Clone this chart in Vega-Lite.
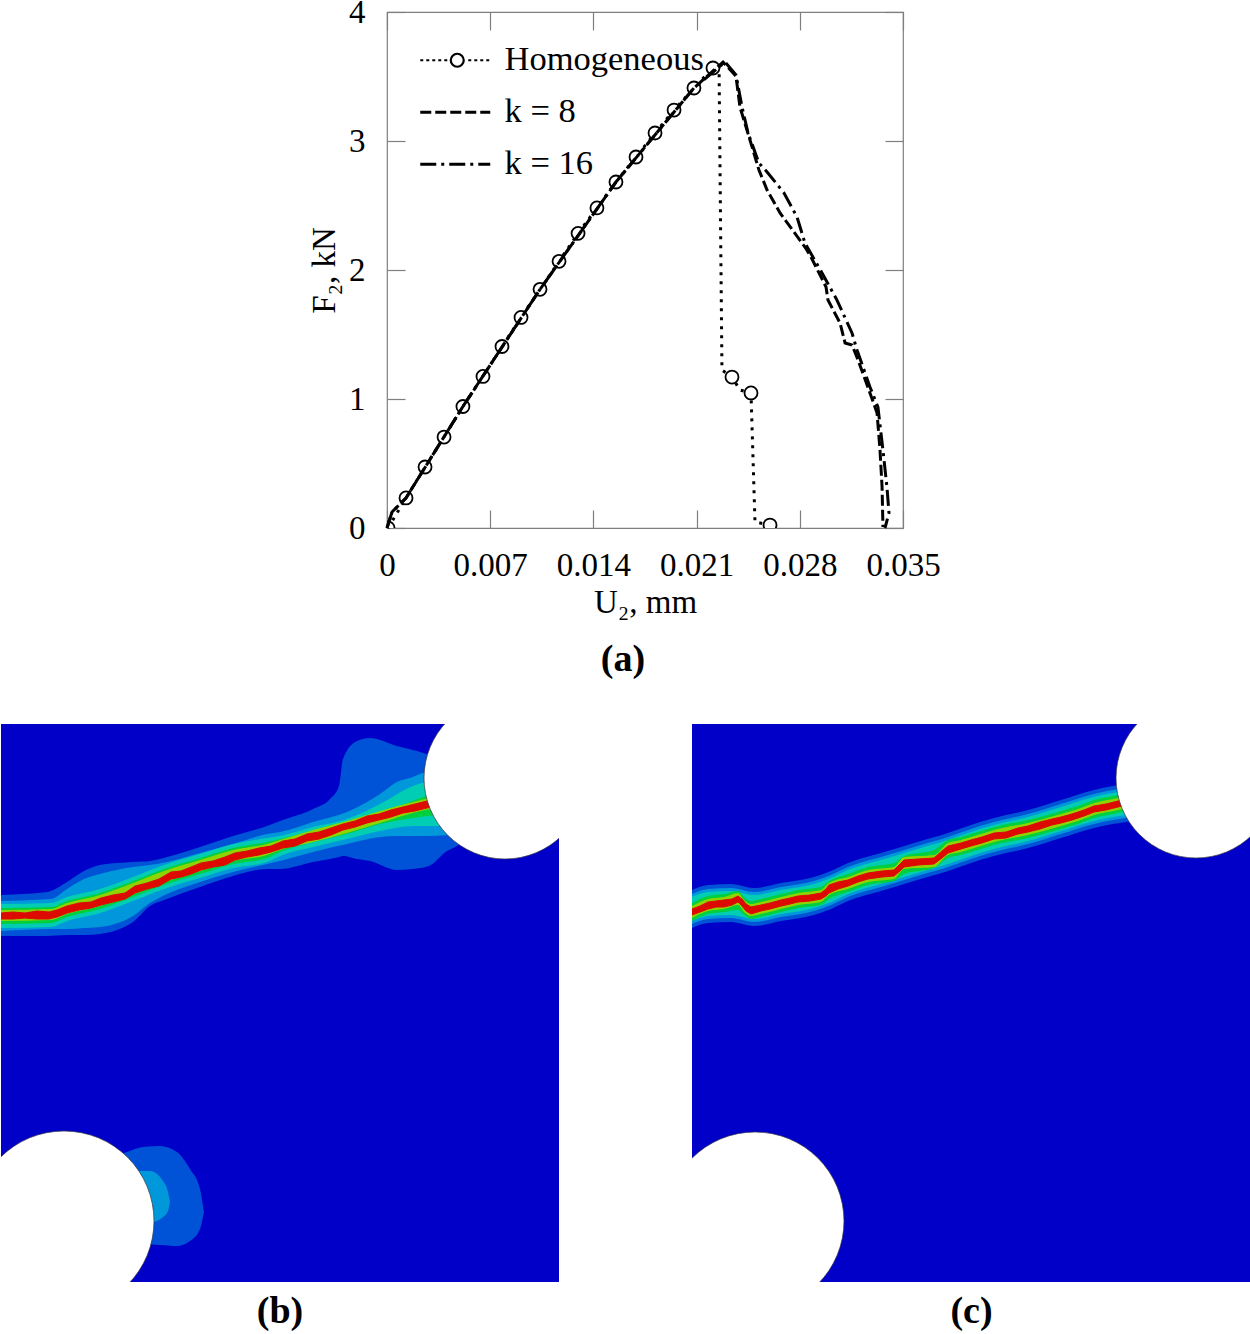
{"$schema":"https://vega.github.io/schema/vega-lite/v6.json","padding":{"left":0,"top":-5,"right":0,"bottom":0},"background":"white","config":{"view":{"stroke":null},"font":"Liberation Serif"},"bounds":"flush","spacing":712,"datasets":{"curve":[
{"series":"Homogeneous","i":0,"u":0.00007,"f":0,"m":1},{"series":"Homogeneous","i":1,"u":0.00129,"f":0.233,"m":1},{"series":"Homogeneous","i":2,"u":0.00258,"f":0.473,"m":1},{"series":"Homogeneous","i":3,"u":0.00387,"f":0.705,"m":1},{"series":"Homogeneous","i":4,"u":0.00515,"f":0.942,"m":1},{"series":"Homogeneous","i":5,"u":0.00651,"f":1.175,"m":1},{"series":"Homogeneous","i":6,"u":0.0078,"f":1.407,"m":1},{"series":"Homogeneous","i":7,"u":0.00909,"f":1.632,"m":1},{"series":"Homogeneous","i":8,"u":0.01038,"f":1.85,"m":1},{"series":"Homogeneous","i":9,"u":0.01167,"f":2.067,"m":1},{"series":"Homogeneous","i":10,"u":0.01296,"f":2.284,"m":1},{"series":"Homogeneous","i":11,"u":0.01424,"f":2.481,"m":1},{"series":"Homogeneous","i":12,"u":0.01553,"f":2.682,"m":1},{"series":"Homogeneous","i":13,"u":0.01689,"f":2.876,"m":1},{"series":"Homogeneous","i":14,"u":0.01818,"f":3.062,"m":1},{"series":"Homogeneous","i":15,"u":0.01947,"f":3.24,"m":1},{"series":"Homogeneous","i":16,"u":0.02082,"f":3.411,"m":1},{"series":"Homogeneous","i":17,"u":0.02211,"f":3.566,"m":1},{"series":"Homogeneous","i":18,"u":0.02252,"f":3.612,"m":0},{"series":"Homogeneous","i":19,"u":0.02272,"f":1.225,"m":0},{"series":"Homogeneous","i":20,"u":0.0234,"f":1.17,"m":1},{"series":"Homogeneous","i":21,"u":0.02394,"f":1.07,"m":0},{"series":"Homogeneous","i":22,"u":0.02469,"f":1.047,"m":1},{"series":"Homogeneous","i":23,"u":0.02496,"f":0.047,"m":0},{"series":"Homogeneous","i":24,"u":0.02598,"f":0.023,"m":1},
{"series":"k = 8","i":0,"u":0,"f":0},{"series":"k = 8","i":1,"u":0.00034,"f":0.124},{"series":"k = 8","i":2,"u":0.00129,"f":0.233},{"series":"k = 8","i":3,"u":0.00515,"f":0.942},{"series":"k = 8","i":4,"u":0.01038,"f":1.85},{"series":"k = 8","i":5,"u":0.01553,"f":2.682},{"series":"k = 8","i":6,"u":0.02082,"f":3.411},{"series":"k = 8","i":7,"u":0.02279,"f":3.612},{"series":"k = 8","i":8,"u":0.02367,"f":3.504},{"series":"k = 8","i":9,"u":0.02394,"f":3.264},{"series":"k = 8","i":10,"u":0.02462,"f":3.008},{"series":"k = 8","i":11,"u":0.02523,"f":2.775},{"series":"k = 8","i":12,"u":0.02578,"f":2.62},{"series":"k = 8","i":13,"u":0.02666,"f":2.442},{"series":"k = 8","i":14,"u":0.02835,"f":2.178},{"series":"k = 8","i":15,"u":0.02876,"f":2.101},{"series":"k = 8","i":16,"u":0.02978,"f":1.868},{"series":"k = 8","i":17,"u":0.02991,"f":1.767},{"series":"k = 8","i":18,"u":0.03073,"f":1.589},{"series":"k = 8","i":19,"u":0.03107,"f":1.434},{"series":"k = 8","i":20,"u":0.03154,"f":1.419},{"series":"k = 8","i":21,"u":0.03195,"f":1.302},{"series":"k = 8","i":22,"u":0.03276,"f":1.047},{"series":"k = 8","i":23,"u":0.03324,"f":0.891},{"series":"k = 8","i":24,"u":0.03344,"f":0.605},{"series":"k = 8","i":25,"u":0.03358,"f":0.318},{"series":"k = 8","i":26,"u":0.03364,"f":0.008},
{"series":"k = 16","i":0,"u":0,"f":0},{"series":"k = 16","i":1,"u":0.00034,"f":0.124},{"series":"k = 16","i":2,"u":0.00129,"f":0.233},{"series":"k = 16","i":3,"u":0.00515,"f":0.942},{"series":"k = 16","i":4,"u":0.01038,"f":1.85},{"series":"k = 16","i":5,"u":0.01553,"f":2.682},{"series":"k = 16","i":6,"u":0.02082,"f":3.411},{"series":"k = 16","i":7,"u":0.02293,"f":3.612},{"series":"k = 16","i":8,"u":0.02367,"f":3.512},{"series":"k = 16","i":9,"u":0.02408,"f":3.264},{"series":"k = 16","i":10,"u":0.02449,"f":3.062},{"series":"k = 16","i":11,"u":0.02523,"f":2.829},{"series":"k = 16","i":12,"u":0.02578,"f":2.76},{"series":"k = 16","i":13,"u":0.02693,"f":2.597},{"series":"k = 16","i":14,"u":0.02781,"f":2.411},{"series":"k = 16","i":15,"u":0.02835,"f":2.209},{"series":"k = 16","i":16,"u":0.02951,"f":1.977},{"series":"k = 16","i":17,"u":0.03052,"f":1.767},{"series":"k = 16","i":18,"u":0.03154,"f":1.512},{"series":"k = 16","i":19,"u":0.03188,"f":1.38},{"series":"k = 16","i":20,"u":0.03276,"f":1.093},{"series":"k = 16","i":21,"u":0.0333,"f":0.938},{"series":"k = 16","i":22,"u":0.03364,"f":0.605},{"series":"k = 16","i":23,"u":0.03391,"f":0.318},{"series":"k = 16","i":24,"u":0.03405,"f":0.116},{"series":"k = 16","i":25,"u":0.03378,"f":0}],
"bands_b":[
{"l":"L1","g":"crack","x":0,"y":171,"y2":212},{"l":"L1","g":"crack","x":46,"y":168,"y2":212},{"l":"L1","g":"crack","x":66,"y":158,"y2":211},{"l":"L1","g":"crack","x":83,"y":147,"y2":211},{"l":"L1","g":"crack","x":99,"y":141,"y2":210},{"l":"L1","g":"crack","x":116,"y":139,"y2":206},{"l":"L1","g":"crack","x":132,"y":138,"y2":198},{"l":"L1","g":"crack","x":149,"y":137,"y2":182},{"l":"L1","g":"crack","x":166,"y":133,"y2":175},{"l":"L1","g":"crack","x":199,"y":123,"y2":163},{"l":"L1","g":"crack","x":232,"y":112,"y2":152},{"l":"L1","g":"crack","x":266,"y":102,"y2":145},{"l":"L1","g":"crack","x":279,"y":97,"y2":145},{"l":"L1","g":"crack","x":312,"y":85,"y2":138},{"l":"L1","g":"crack","x":329,"y":75,"y2":135},{"l":"L1","g":"crack","x":338,"y":62,"y2":133},{"l":"L1","g":"crack","x":342,"y":35,"y2":132},{"l":"L1","g":"crack","x":356,"y":17,"y2":135},{"l":"L1","g":"crack","x":369,"y":14,"y2":137},{"l":"L1","g":"crack","x":396,"y":22,"y2":146},{"l":"L1","g":"crack","x":412,"y":26,"y2":145},{"l":"L1","g":"crack","x":428,"y":31,"y2":142},{"l":"L1","g":"crack","x":446,"y":40,"y2":127},{"l":"L1","g":"crack","x":456,"y":45,"y2":122},{"l":"L1","g":"crack","x":470,"y":50,"y2":110},
{"l":"L1","g":"notch","x":120,"y":430,"y2":519},{"l":"L1","g":"notch","x":126,"y":428,"y2":519},{"l":"L1","g":"notch","x":142,"y":423,"y2":520},{"l":"L1","g":"notch","x":159,"y":422,"y2":521},{"l":"L1","g":"notch","x":176,"y":428,"y2":522},{"l":"L1","g":"notch","x":189,"y":445,"y2":517},{"l":"L1","g":"notch","x":199,"y":465,"y2":505},{"l":"L1","g":"notch","x":203,"y":488,"y2":488},
{"l":"L2","g":"crack","x":0,"y":177,"y2":207},{"l":"L2","g":"crack","x":50,"y":175,"y2":205},{"l":"L2","g":"crack","x":66,"y":165,"y2":205},{"l":"L2","g":"crack","x":83,"y":155,"y2":204},{"l":"L2","g":"crack","x":99,"y":150,"y2":203},{"l":"L2","g":"crack","x":132,"y":143,"y2":192},{"l":"L2","g":"crack","x":149,"y":141,"y2":179},{"l":"L2","g":"crack","x":166,"y":138,"y2":170},{"l":"L2","g":"crack","x":199,"y":129,"y2":158},{"l":"L2","g":"crack","x":232,"y":120,"y2":148},{"l":"L2","g":"crack","x":266,"y":110,"y2":140},{"l":"L2","g":"crack","x":279,"y":108,"y2":137},{"l":"L2","g":"crack","x":312,"y":98,"y2":128},{"l":"L2","g":"crack","x":346,"y":88,"y2":120},{"l":"L2","g":"crack","x":379,"y":70,"y2":113},{"l":"L2","g":"crack","x":396,"y":58,"y2":112},{"l":"L2","g":"crack","x":412,"y":53,"y2":112},{"l":"L2","g":"crack","x":426,"y":48,"y2":112},{"l":"L2","g":"crack","x":446,"y":47,"y2":111},{"l":"L2","g":"crack","x":470,"y":47,"y2":109},
{"l":"L2","g":"notch","x":130,"y":447,"y2":500},{"l":"L2","g":"notch","x":137,"y":447,"y2":500},{"l":"L2","g":"notch","x":149,"y":447,"y2":499},{"l":"L2","g":"notch","x":162,"y":457,"y2":493},{"l":"L2","g":"notch","x":167,"y":468,"y2":487},{"l":"L2","g":"notch","x":169,"y":478,"y2":478},
{"l":"L3","g":"crack","x":0,"y":180,"y2":204},{"l":"L3","g":"crack","x":50,"y":179,"y2":203},{"l":"L3","g":"crack","x":66,"y":173,"y2":197},{"l":"L3","g":"crack","x":99,"y":165,"y2":189},{"l":"L3","g":"crack","x":132,"y":153,"y2":177},{"l":"L3","g":"crack","x":166,"y":140,"y2":164},{"l":"L3","g":"crack","x":199,"y":130,"y2":154},{"l":"L3","g":"crack","x":232,"y":120,"y2":144},{"l":"L3","g":"crack","x":266,"y":114,"y2":138},{"l":"L3","g":"crack","x":279,"y":112,"y2":132},{"l":"L3","g":"crack","x":312,"y":103,"y2":123},{"l":"L3","g":"crack","x":346,"y":95,"y2":115},{"l":"L3","g":"crack","x":379,"y":80,"y2":107},{"l":"L3","g":"crack","x":412,"y":62,"y2":102},{"l":"L3","g":"crack","x":426,"y":58,"y2":102},{"l":"L3","g":"crack","x":470,"y":55,"y2":102},
{"l":"L4","g":"crack","x":0,"y":184,"y2":200},{"l":"L4","g":"crack","x":50,"y":183,"y2":199},{"l":"L4","g":"crack","x":66,"y":177,"y2":193},{"l":"L4","g":"crack","x":99,"y":169,"y2":185},{"l":"L4","g":"crack","x":132,"y":157,"y2":173},{"l":"L4","g":"crack","x":166,"y":144,"y2":160},{"l":"L4","g":"crack","x":199,"y":134,"y2":150},{"l":"L4","g":"crack","x":232,"y":124,"y2":140},{"l":"L4","g":"crack","x":266,"y":118,"y2":134},{"l":"L4","g":"crack","x":279,"y":115,"y2":128},{"l":"L4","g":"crack","x":312,"y":107,"y2":118},{"l":"L4","g":"crack","x":346,"y":98,"y2":110},{"l":"L4","g":"crack","x":379,"y":88,"y2":100},{"l":"L4","g":"crack","x":412,"y":77,"y2":94},{"l":"L4","g":"crack","x":426,"y":72,"y2":92},{"l":"L4","g":"crack","x":470,"y":70,"y2":90},
{"l":"L5","g":"crack","x":0,"y":186,"y2":197},{"l":"L5","g":"crack","x":50,"y":185,"y2":196},{"l":"L5","g":"crack","x":66,"y":179,"y2":190},{"l":"L5","g":"crack","x":99,"y":171,"y2":182},{"l":"L5","g":"crack","x":132,"y":159,"y2":170},{"l":"L5","g":"crack","x":166,"y":146,"y2":157},{"l":"L5","g":"crack","x":199,"y":136,"y2":147},{"l":"L5","g":"crack","x":232,"y":126,"y2":137},{"l":"L5","g":"crack","x":266,"y":120,"y2":131},{"l":"L5","g":"crack","x":279,"y":116,"y2":126},{"l":"L5","g":"crack","x":312,"y":106,"y2":118},{"l":"L5","g":"crack","x":346,"y":97,"y2":109},{"l":"L5","g":"crack","x":379,"y":87,"y2":99},{"l":"L5","g":"crack","x":412,"y":78,"y2":89},{"l":"L5","g":"crack","x":430,"y":74,"y2":85},{"l":"L5","g":"crack","x":470,"y":70,"y2":83}],
"red_b":[{"x":0,"y":189,"y2":195},{"x":12,"y":188,"y2":195},{"x":24,"y":189,"y2":194},{"x":36,"y":187,"y2":195},{"x":48,"y":188,"y2":195},{"x":56,"y":186,"y2":193},{"x":66,"y":182,"y2":189},{"x":78,"y":179,"y2":186},{"x":90,"y":178,"y2":184},{"x":100,"y":174,"y2":181},{"x":112,"y":171,"y2":178},{"x":124,"y":169,"y2":175},{"x":134,"y":162,"y2":169},{"x":146,"y":159,"y2":165},{"x":158,"y":155,"y2":162},{"x":170,"y":148,"y2":155},{"x":180,"y":147,"y2":153},{"x":190,"y":143,"y2":150},{"x":200,"y":139,"y2":146},{"x":212,"y":137,"y2":143},{"x":224,"y":133,"y2":141},{"x":234,"y":129,"y2":136},{"x":246,"y":127,"y2":133},{"x":258,"y":124,"y2":131},{"x":270,"y":122,"y2":128},{"x":282,"y":117,"y2":124},{"x":294,"y":115,"y2":122},{"x":306,"y":110,"y2":117},{"x":318,"y":108,"y2":115},{"x":330,"y":104,"y2":111},{"x":342,"y":100,"y2":106},{"x":354,"y":97,"y2":103},{"x":366,"y":92,"y2":99},{"x":378,"y":90,"y2":96},{"x":390,"y":86,"y2":93},{"x":402,"y":83,"y2":89},{"x":414,"y":80,"y2":87},{"x":426,"y":77,"y2":84},{"x":440,"y":75,"y2":81},{"x":470,"y":70,"y2":77}],
"bands_c":[
{"l":"L1","x":0,"y":166,"y2":204},{"l":"L1","x":16,"y":161,"y2":199},{"l":"L1","x":39,"y":160,"y2":198},{"l":"L1","x":62,"y":164,"y2":202},{"l":"L1","x":89,"y":159,"y2":197},{"l":"L1","x":122,"y":153,"y2":191},{"l":"L1","x":139,"y":147,"y2":185},{"l":"L1","x":156,"y":139,"y2":177},{"l":"L1","x":189,"y":129,"y2":167},{"l":"L1","x":206,"y":124,"y2":162},{"l":"L1","x":222,"y":119,"y2":157},{"l":"L1","x":256,"y":109,"y2":147},{"l":"L1","x":279,"y":101,"y2":139},{"l":"L1","x":302,"y":94,"y2":132},{"l":"L1","x":336,"y":86,"y2":124},{"l":"L1","x":369,"y":76,"y2":114},{"l":"L1","x":402,"y":66,"y2":104},{"l":"L1","x":440,"y":59,"y2":97},
{"l":"L2","x":0,"y":170,"y2":200},{"l":"L2","x":16,"y":165,"y2":195},{"l":"L2","x":39,"y":164,"y2":194},{"l":"L2","x":62,"y":168,"y2":198},{"l":"L2","x":89,"y":163,"y2":193},{"l":"L2","x":122,"y":157,"y2":187},{"l":"L2","x":139,"y":151,"y2":181},{"l":"L2","x":156,"y":143,"y2":173},{"l":"L2","x":189,"y":133,"y2":163},{"l":"L2","x":206,"y":128,"y2":158},{"l":"L2","x":222,"y":123,"y2":153},{"l":"L2","x":256,"y":113,"y2":143},{"l":"L2","x":279,"y":105,"y2":135},{"l":"L2","x":302,"y":98,"y2":128},{"l":"L2","x":336,"y":90,"y2":120},{"l":"L2","x":369,"y":80,"y2":110},{"l":"L2","x":402,"y":70,"y2":100},{"l":"L2","x":440,"y":63,"y2":93},
{"l":"L3","x":0,"y":173,"y2":197},{"l":"L3","x":16,"y":168,"y2":192},{"l":"L3","x":39,"y":167,"y2":191},{"l":"L3","x":62,"y":171,"y2":195},{"l":"L3","x":89,"y":166,"y2":190},{"l":"L3","x":122,"y":160,"y2":184},{"l":"L3","x":139,"y":154,"y2":178},{"l":"L3","x":156,"y":146,"y2":170},{"l":"L3","x":189,"y":136,"y2":160},{"l":"L3","x":206,"y":131,"y2":155},{"l":"L3","x":222,"y":126,"y2":150},{"l":"L3","x":256,"y":116,"y2":140},{"l":"L3","x":279,"y":108,"y2":132},{"l":"L3","x":302,"y":101,"y2":125},{"l":"L3","x":336,"y":93,"y2":117},{"l":"L3","x":369,"y":83,"y2":107},{"l":"L3","x":402,"y":73,"y2":97},{"l":"L3","x":440,"y":66,"y2":90},
{"l":"L4","x":0,"y":179,"y2":197},{"l":"L4","x":16,"y":172,"y2":190},{"l":"L4","x":32,"y":170,"y2":188},{"l":"L4","x":46,"y":167,"y2":186},{"l":"L4","x":52,"y":173,"y2":191},{"l":"L4","x":59,"y":177,"y2":195},{"l":"L4","x":69,"y":175,"y2":193},{"l":"L4","x":89,"y":170,"y2":188},{"l":"L4","x":106,"y":166,"y2":184},{"l":"L4","x":129,"y":163,"y2":181},{"l":"L4","x":137,"y":157,"y2":175},{"l":"L4","x":156,"y":150,"y2":168},{"l":"L4","x":176,"y":143,"y2":161},{"l":"L4","x":202,"y":139,"y2":157},{"l":"L4","x":212,"y":132,"y2":150},{"l":"L4","x":242,"y":126,"y2":144},{"l":"L4","x":256,"y":116,"y2":134},{"l":"L4","x":269,"y":113,"y2":131},{"l":"L4","x":279,"y":110,"y2":128},{"l":"L4","x":302,"y":103,"y2":121},{"l":"L4","x":336,"y":96,"y2":114},{"l":"L4","x":369,"y":87,"y2":105},{"l":"L4","x":386,"y":82,"y2":100},{"l":"L4","x":402,"y":76,"y2":94},{"l":"L4","x":426,"y":71,"y2":89},{"l":"L4","x":440,"y":68,"y2":86},
{"l":"L5","x":0,"y":182,"y2":194},{"l":"L5","x":16,"y":175,"y2":187},{"l":"L5","x":32,"y":173,"y2":185},{"l":"L5","x":46,"y":169,"y2":181},{"l":"L5","x":52,"y":176,"y2":188},{"l":"L5","x":59,"y":180,"y2":192},{"l":"L5","x":69,"y":178,"y2":190},{"l":"L5","x":89,"y":173,"y2":185},{"l":"L5","x":106,"y":169,"y2":181},{"l":"L5","x":129,"y":166,"y2":178},{"l":"L5","x":137,"y":159,"y2":171},{"l":"L5","x":156,"y":153,"y2":165},{"l":"L5","x":176,"y":146,"y2":158},{"l":"L5","x":202,"y":143,"y2":155},{"l":"L5","x":212,"y":133,"y2":145},{"l":"L5","x":242,"y":131,"y2":143},{"l":"L5","x":256,"y":119,"y2":131},{"l":"L5","x":269,"y":116,"y2":128},{"l":"L5","x":279,"y":113,"y2":125},{"l":"L5","x":302,"y":106,"y2":118},{"l":"L5","x":336,"y":99,"y2":111},{"l":"L5","x":369,"y":90,"y2":102},{"l":"L5","x":386,"y":85,"y2":97},{"l":"L5","x":402,"y":79,"y2":91},{"l":"L5","x":426,"y":74,"y2":86},{"l":"L5","x":440,"y":71,"y2":83}],
"red_c":[{"x":0,"y":185,"y2":191},{"x":8,"y":182,"y2":188},{"x":16,"y":178,"y2":185},{"x":24,"y":177,"y2":183},{"x":32,"y":176,"y2":183},{"x":40,"y":175,"y2":181},{"x":46,"y":172,"y2":178},{"x":50,"y":175,"y2":182},{"x":54,"y":180,"y2":187},{"x":59,"y":183,"y2":190},{"x":69,"y":181,"y2":187},{"x":78,"y":179,"y2":185},{"x":89,"y":176,"y2":182},{"x":98,"y":174,"y2":180},{"x":106,"y":172,"y2":178},{"x":118,"y":171,"y2":177},{"x":129,"y":169,"y2":175},{"x":134,"y":165,"y2":172},{"x":137,"y":161,"y2":169},{"x":146,"y":158,"y2":165},{"x":156,"y":156,"y2":162},{"x":166,"y":152,"y2":158},{"x":176,"y":149,"y2":155},{"x":190,"y":147,"y2":153},{"x":202,"y":146,"y2":152},{"x":208,"y":140,"y2":147},{"x":212,"y":136,"y2":143},{"x":226,"y":135,"y2":141},{"x":242,"y":134,"y2":140},{"x":250,"y":127,"y2":134},{"x":256,"y":122,"y2":129},{"x":269,"y":119,"y2":125},{"x":279,"y":116,"y2":122},{"x":290,"y":113,"y2":119},{"x":302,"y":109,"y2":115},{"x":314,"y":108,"y2":114},{"x":326,"y":104,"y2":110},{"x":336,"y":102,"y2":108},{"x":348,"y":98,"y2":105},{"x":360,"y":95,"y2":101},{"x":369,"y":93,"y2":99},{"x":380,"y":90,"y2":96},{"x":392,"y":86,"y2":92},{"x":402,"y":82,"y2":88},{"x":414,"y":80,"y2":86},{"x":426,"y":77,"y2":83},{"x":440,"y":74,"y2":80},{"x":470,"y":70,"y2":76}]},
"vconcat":[
{"bounds":"flush","spacing":0,"hconcat":[
{"width":386,"height":516,"data":{"values":[{}]},"mark":{"type":"rule","opacity":0},"encoding":{}},
{"width":516,"height":516,"view":{"stroke":"#7f7f7f","strokeWidth":1.2},"data":{"name":"curve"},"title":{"text":"(a)","orient":"bottom","font":"Liberation Serif","fontWeight":"bold","fontSize":38,"color":"black","dx":-22,"offset":22},
"layer":[
{"transform":[{"filter":"datum.series === 'Homogeneous'"}],"mark":{"type":"line","strokeWidth":3,"color":"black","strokeDash":[3,6]},
"encoding":{"x":{"field":"u","type":"quantitative","scale":{"domain":[0,0.035],"nice":false},"axis":{"orient":"bottom","values":[0,0.007,0.014,0.021,0.028,0.035],"format":".3~f","grid":false,"domain":false,"tickSize":-18,"tickColor":"#7f7f7f","tickWidth":1.2,"labelFont":"Liberation Serif","labelFontSize":33,"labelColor":"black","labelPadding":39,"labelOverlap":false,"labelFlush":false,"title":"U₂, mm","titleFont":"Liberation Serif","titleFontSize":33,"titleFontWeight":"normal","titleColor":"black","titlePadding":4}},
"y":{"field":"f","type":"quantitative","scale":{"domain":[0,4],"nice":false},"axis":{"orient":"left","values":[0,1,2,3,4],"format":"d","grid":false,"domain":false,"tickSize":-18,"tickColor":"#7f7f7f","tickWidth":1.2,"labelFont":"Liberation Serif","labelFontSize":33,"labelColor":"black","labelPadding":40,"labelOverlap":false,"labelFlush":false,"title":"F₂, kN","titleFont":"Liberation Serif","titleFontSize":33,"titleFontWeight":"normal","titleColor":"black","titlePadding":7}},
"order":{"field":"i","type":"quantitative"}}},
{"transform":[{"filter":"datum.m === 1"}],"mark":{"type":"point","shape":"circle","filled":true,"fill":"white","stroke":"black","strokeWidth":1.8,"size":169,"opacity":1,"clip":true},
"encoding":{"x":{"field":"u","type":"quantitative","axis":{"orient":"top","values":[0,0.007,0.014,0.021,0.028,0.035],"labels":false,"domain":false,"grid":false,"title":null,"tickSize":-18,"tickColor":"#7f7f7f","tickWidth":1.2}},
"y":{"field":"f","type":"quantitative","axis":{"orient":"right","values":[0,1,2,3,4],"labels":false,"domain":false,"grid":false,"title":null,"tickSize":-18,"tickColor":"#7f7f7f","tickWidth":1.2}}}},
{"transform":[{"filter":"datum.series !== 'Homogeneous'"}],"mark":{"type":"line","strokeWidth":3,"color":"black"},
"encoding":{"x":{"field":"u","type":"quantitative","axis":null},"y":{"field":"f","type":"quantitative","axis":null},"order":{"field":"i","type":"quantitative"},
"strokeDash":{"field":"series","type":"nominal","scale":{"domain":["Homogeneous","k = 8","k = 16"],"range":[[1000,0],[11,4],[16,5,3,5]]},
"legend":{"title":null,"orient":"none","legendX":437,"legendY":31,"padding":0,"symbolType":"stroke","symbolSize":1600,"symbolStrokeWidth":3,"symbolStrokeColor":"black","rowPadding":17,"labelOffset":32,"labelFont":"Liberation Serif","labelFontSize":34.5,"labelColor":"black","labelLimit":300,"encoding":{"symbols":{"shape":{"value":{"expr":"datum.value === 'Homogeneous' ? 'M-1.75,0h.15m.15,0h.15m.15,0h.15m.15,0h.15m.15,0h.15M-.225,0A.325,.325 0 1 1 .425,0A.325,.325 0 1 1 -.225,0M.65,0h.15m.15,0h.15m.15,0h.15m.15,0h.15' : 'M-1.75,0H1.75'"}},"strokeWidth":{"value":{"expr":"datum.value === 'Homogeneous' ? 2.2 : 3"}}}}}}}}],
"resolve":{"axis":{"x":"independent","y":"independent"}}}]},
{"bounds":"flush","spacing":133,"hconcat":[
{"width":558,"height":558,"view":{"fill":"#0000c8","stroke":null},"title":{"text":"(b)","orient":"bottom","font":"Liberation Serif","fontWeight":"bold","fontSize":38,"color":"black","offset":11},
"encoding":{"x":{"field":"x","type":"quantitative","scale":{"domain":[0,558],"nice":false},"axis":null},"y":{"field":"y","type":"quantitative","scale":{"domain":[0,558],"nice":false,"reverse":true},"axis":null}},
"layer":[
{"data":{"name":"bands_b"},"mark":{"type":"area","clip":true,"interpolate":"monotone"},"encoding":{"y2":{"field":"y2"},"color":{"field":"l","type":"nominal","legend":null,"scale":{"domain":["L1","L2","L3","L4","L5"],"range":["#0052d6","#0098da","#00cdb4","#00cf3e","#8fd400"]}},"detail":{"field":"g"}}},
{"data":{"name":"red_b"},"mark":{"type":"area","clip":true,"color":"#dc0a00","stroke":"#dc0a00","strokeWidth":1},"encoding":{"y2":{"field":"y2"}}},
{"data":{"values":[{"x":504,"y":54}]},"mark":{"type":"point","shape":"circle","filled":true,"fill":"white","stroke":"#334","strokeWidth":0.7,"opacity":1,"size":26244,"clip":true}},
{"data":{"values":[{"x":63,"y":497}]},"mark":{"type":"point","shape":"circle","filled":true,"fill":"white","stroke":"#334","strokeWidth":0.7,"opacity":1,"size":32400,"clip":true}}]},
{"width":559,"height":558,"view":{"fill":"#0000c8","stroke":null},"title":{"text":"(c)","orient":"bottom","font":"Liberation Serif","fontWeight":"bold","fontSize":38,"color":"black","offset":11},
"encoding":{"x":{"field":"x","type":"quantitative","scale":{"domain":[0,559],"nice":false},"axis":null},"y":{"field":"y","type":"quantitative","scale":{"domain":[0,558],"nice":false,"reverse":true},"axis":null}},
"layer":[
{"data":{"name":"bands_c"},"mark":{"type":"area","clip":true,"interpolate":"monotone"},"encoding":{"y2":{"field":"y2"},"color":{"field":"l","type":"nominal","legend":null,"scale":{"domain":["L1","L2","L3","L4","L5"],"range":["#0052d6","#0098da","#00cdb4","#00cf3e","#8fd400"]}}}},
{"data":{"name":"red_c"},"mark":{"type":"area","clip":true,"color":"#dc0a00","stroke":"#dc0a00","strokeWidth":1},"encoding":{"y2":{"field":"y2"}}},
{"data":{"values":[{"x":504,"y":54}]},"mark":{"type":"point","shape":"circle","filled":true,"fill":"white","stroke":"#334","strokeWidth":0.7,"opacity":1,"size":25600,"clip":true}},
{"data":{"values":[{"x":63,"y":497}]},"mark":{"type":"point","shape":"circle","filled":true,"fill":"white","stroke":"#334","strokeWidth":0.7,"opacity":1,"size":31684,"clip":true}}]}],
"resolve":{"scale":{"color":"independent","x":"independent","y":"independent"}}}]}
